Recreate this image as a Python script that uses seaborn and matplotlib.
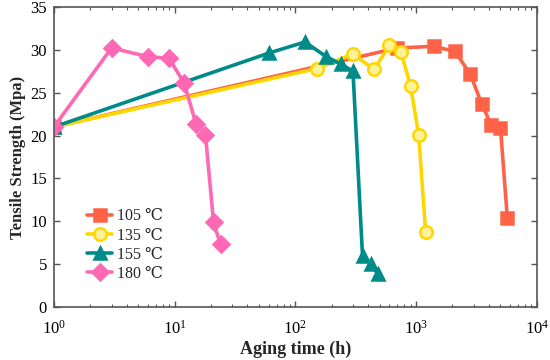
import matplotlib
matplotlib.use("Agg")
import matplotlib.pyplot as plt
import seaborn as sns
import pandas as pd
import numpy as np

# Data
t105 = [1, 700, 1400, 2100, 2800, 3500, 4200, 5000, 5700]
s105 = [21.0, 30.2, 30.4, 29.8, 27.2, 23.7, 21.2, 20.9, 10.4]
t135 = [1, 150, 300, 450, 600, 750, 900, 1050, 1200]
s135 = [21.0, 27.8, 29.5, 27.7, 30.5, 29.7, 25.8, 20.1, 8.8]
t155 = [1, 60, 120, 180, 240, 300, 360, 420, 480]
s155 = [21.0, 29.6, 30.9, 29.2, 28.3, 27.5, 6.0, 5.0, 3.9]
t180 = [1, 3, 6, 9, 12, 15, 18, 21, 24]
s180 = [21.0, 30.2, 29.2, 29.0, 26.1, 21.4, 20.1, 9.9, 7.3]
labels = ["105 \u2103", "135 \u2103", "155 \u2103", "180 \u2103"]

series = [(t105, s105), (t135, s135), (t155, s155), (t180, s180)]
colors = ["#FF6347", "#FFD700", "#008B8B", "#FF69B4"]
markers = ["s", "o", "^", "D"]
faces = ["#FF6347", "#FFF09A", "#008B8B", "#FF69B4"]
msizes = [8, 9, 9, 8]

sns.set_style("ticks")
plt.rcParams['font.family'] = ['Liberation Serif', 'DejaVu Serif']

fig = plt.figure(figsize=(5.5, 3.6), dpi=100)
ax = fig.add_axes([0.098, 0.147, 0.878, 0.834])

for (t, s), lab, c, m, fc, ms in zip(series, labels, colors, markers, faces, msizes):
    df = pd.DataFrame({"t": t, "s": s})
    sns.lineplot(data=df, x="t", y="s", ax=ax, sort=False, color=c, lw=2.6,
                 marker=m, markersize=ms, markerfacecolor=fc,
                 markeredgecolor=c, markeredgewidth=1.8, label=lab)

ax.set_xscale("log")
ax.set_xlim(1, 1e4)
ax.set_ylim(0, 35)
ax.set_yticks(range(0, 36, 5))
ax.set_xlabel("Aging time (h)", fontsize=13, fontweight="bold", labelpad=2)
ax.set_ylabel("Tensile Strength (Mpa)", fontsize=12, fontweight="bold", labelpad=3)
ax.tick_params(which="both", direction="in", top=True, right=True,
               labelsize=12, colors="#555555", labelcolor="black")
ax.tick_params(which="major", length=4, width=1)
ax.tick_params(which="minor", length=2.5, width=0.8)
ax.tick_params(axis="x", which="major", pad=9)
ax.tick_params(axis="y", which="major", pad=5)
for sp in ax.spines.values():
    sp.set_color("#555555")
    sp.set_linewidth(1.2)

leg = ax.legend(loc="upper left", bbox_to_anchor=(0.055, 0.35), frameon=False,
                fontsize=11.5, handlelength=1.6, handletextpad=0.3,
                labelspacing=0.2, borderaxespad=0)

fig.savefig("out.png", dpi=100)
